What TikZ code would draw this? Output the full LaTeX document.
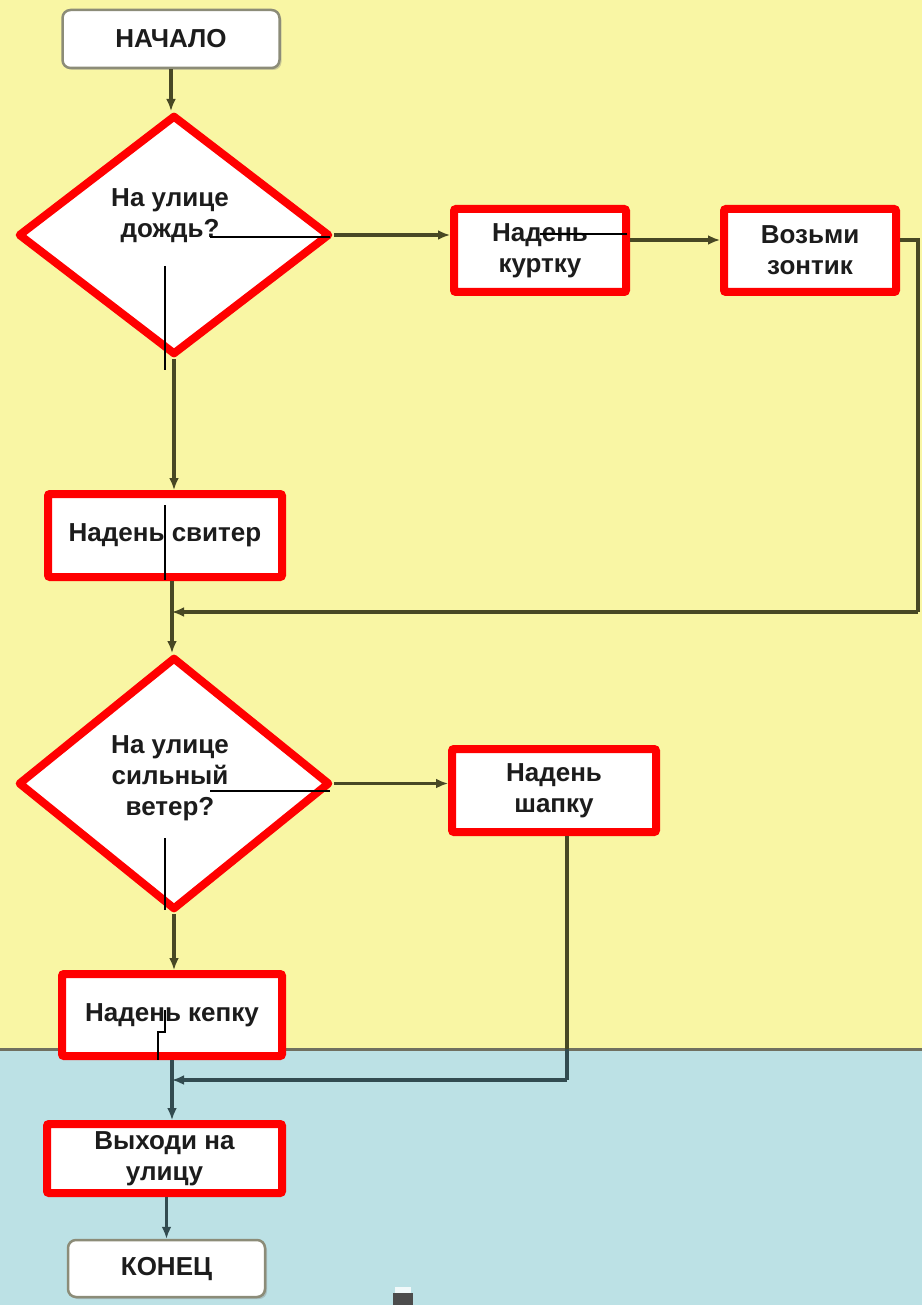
\documentclass[tikz,border=0pt]{standalone}
\usepackage{fontspec}
\setmainfont{Liberation Sans}
\usetikzlibrary{shapes.geometric,arrows.meta,shadows}
\definecolor{bgyellow}{RGB}{249,246,164}
\definecolor{bgblue}{RGB}{188,225,229}
\definecolor{connY}{RGB}{72,72,36}
\definecolor{connB}{RGB}{50,75,80}
\definecolor{boxgray}{RGB}{140,140,120}
\definecolor{txt}{RGB}{28,28,28}
\tikzset{
  lbl/.style={font=\fontsize{26}{31}\selectfont\bfseries, text=txt, align=center, inner sep=0pt},
  terminal/.style={lbl, draw=boxgray, line width=2.5pt, fill=white, rounded corners=8pt,
     drop shadow={shadow xshift=2pt, shadow yshift=-2pt, opacity=0.35}},
  redbox/.style={lbl, draw=red, line width=8pt, fill=white, rounded corners=2pt},
  reddia/.style={diamond, draw=red, line width=8pt, fill=white, line join=round, inner sep=0pt},
  conn/.style={draw=connY, line width=3.2pt},
  connb/.style={draw=connB, line width=3.2pt},
  arr/.style={-{Latex[length=12pt,width=10pt]}},
  thin/.style={draw=black, line width=1.4pt},
}
\begin{document}
\begin{tikzpicture}[x=1pt,y=-1pt]
\useasboundingbox (0,0) rectangle (922,1305);
% background
\fill[bgyellow] (0,0) rectangle (922,1049);
\fill[bgblue] (0,1049) rectangle (922,1305);
\draw[draw=boxgray!80!black, line width=3pt] (0,1049) -- (922,1049);

% nodes
\node[terminal, minimum width=217pt, minimum height=58pt] (start) at (171,39) {НАЧАЛО};
\node[reddia, minimum width=312pt, minimum height=240pt] (d1) at (174,235) {};
\node[lbl] (d1t) at (170,216) {На улице\\дождь?};
\node[redbox, minimum width=172pt, minimum height=83pt] (b1) at (540,250.5) {Надень\\куртку};
\node[redbox, minimum width=172pt, minimum height=83pt] (b2) at (810,250.5) {Возьми\\зонтик};
\node[redbox, minimum width=234pt, minimum height=83pt] (b3) at (165,535.5) {Надень свитер};
\node[reddia, minimum width=312pt, minimum height=253pt] (d2) at (174,783.5) {};
\node[lbl] (d2t) at (170,778) {На улице\\сильный\\ветер?};
\node[redbox, minimum width=204pt, minimum height=83pt] (b4) at (554,790.5) {Надень\\шапку};
\node[redbox, minimum width=220pt, minimum height=82pt] (b5) at (172,1015) {Надень кепку};
\node[redbox, minimum width=235pt, minimum height=69pt] (b6) at (164.5,1158.5) {Выходи на\\улицу};
\node[terminal, minimum width=197pt, minimum height=57pt] (end) at (166.5,1268.5) {КОНЕЦ};

% junction coordinates
\coordinate (j1) at (172,612);
\coordinate (r0) at (918,240);
\coordinate (r1) at (918,612);
\coordinate (j2) at (172,1080);
\coordinate (s1) at (567,1080);

% connectors
\draw[conn,arr] (start.south) -- (start.south |- d1.north);
\draw[conn,arr] (d1.east) -- (d1.east -| b1.west);
\draw[conn,arr] (b1.east |- 0,240) -- (b2.west |- 0,240);
\draw[conn] (b2.east |- r0) -- (r0) -- (r1);
\draw[conn,arr] (r1) -- (j1);
\draw[conn,arr] (d1.south) -- (d1.south |- b3.north);
\draw[conn] (b3.south -| j1) -- (j1);
\draw[conn,arr] (j1) -- (j1 |- d2.north);
\draw[conn,arr] (d2.east) -- (d2.east -| b4.west);
\draw[conn,arr] (d2.south) -- (d2.south |- b5.north);
\draw[conn] (b4.south -| s1) -- (s1 |- 0,1049);
\draw[connb] (s1 |- 0,1049) -- (s1);
\draw[connb,arr] (s1) -- (j2);
\draw[connb] (b5.south -| j2) -- (j2);
\draw[connb,arr] (j2) -- (j2 |- b6.north);
\draw[connb,arr] (b6.south -| end.north) -- (end.north);

% thin black overlay lines
\draw[thin] (210,237) -- (330,237);
\draw[thin] (165,266) -- (165,370);
\draw[thin] (540,234) -- (627,234);
\draw[thin] (165,505) -- (165,580);
\draw[thin] (210,791) -- (330,791);
\draw[thin] (165,838) -- (165,910);
\draw[thin] (165,1010) -- (165,1032) -- (158,1032) -- (158,1060);

% small icon at bottom
\fill[black!70] (393,1293) rectangle (413,1305);
\fill[white!80!bgblue] (395,1287) rectangle (411,1293);
\end{tikzpicture}
\end{document}
